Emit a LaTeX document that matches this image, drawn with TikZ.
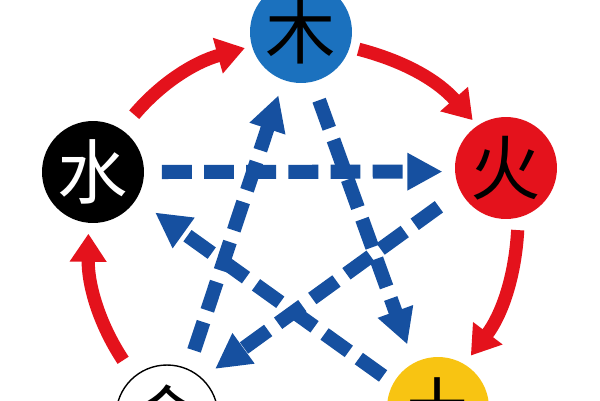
\documentclass[tikz,border=0pt]{standalone}
\usepackage{fontspec}
\newfontfamily\cjk{Noto Sans CJK SC}
\usetikzlibrary{arrows.meta}
\definecolor{mublue}{RGB}{27,113,190}
\definecolor{keblue}{RGB}{22,80,160}
\definecolor{wxred}{RGB}{228,18,28}
\definecolor{tuyellow}{RGB}{248,196,18}

\begin{document}
\begin{tikzpicture}[x=0.02cm, y=-0.02cm,
  elem/.style={circle, minimum size=2.04cm, inner sep=0pt, font={\cjk\fontsize{40}{40}\selectfont}},
  sheng/.style={draw=wxred, line width=7.5pt, -{Triangle[length=16pt,width=20pt]}},
  ke/.style={draw=keblue, line width=8pt, dash pattern=on 17pt off 7pt, -{Triangle[length=20pt,width=20pt]}}]
\clip (0,0) rectangle (600,400);
\fill[white] (0,0) rectangle (600,400);
\node[elem, fill=mublue] (mu) at (301,32) {木};
\node[elem, fill=wxred] (huo) at (506,168) {火};
\node[elem, fill=tuyellow] (tu) at (438,408) {土};
\node[elem, draw=black, line width=0.8pt, fill=white] (jin) at (167,416) {金};
\node[elem, fill=black, text=white] (shui) at (93,172) {水};
% red cycle
\draw[sheng, shorten <=11pt, shorten >=4pt] (shui.56) to[bend left=17] (mu.196);
\draw[sheng, shorten <=5pt, shorten >=4pt] (mu.-17) to[bend left=17] (huo.124);
\draw[sheng, shorten <=7pt, shorten >=6pt] (huo.-76) to[bend left=17] (tu.59);
\draw[sheng, shorten <=11pt, shorten >=6pt] (jin.130) to[bend left=17] (shui.265);
% blue star
\draw[ke, shorten <=10pt, shorten >=7pt] (shui.east) -- (huo.184);
\draw[ke, shorten <=11pt, shorten >=11pt] (mu.-77) -- (tu.118);
\draw[ke, shorten <=11pt, shorten >=9pt] (jin.66) -- (mu.250);
\draw[ke, shorten <=15pt, shorten >=9pt] (huo.207) -- (jin.47);
\draw[ke, shorten <=7pt, shorten >=13pt] (tu.151) -- (shui.-32);
\end{tikzpicture}
\end{document}
